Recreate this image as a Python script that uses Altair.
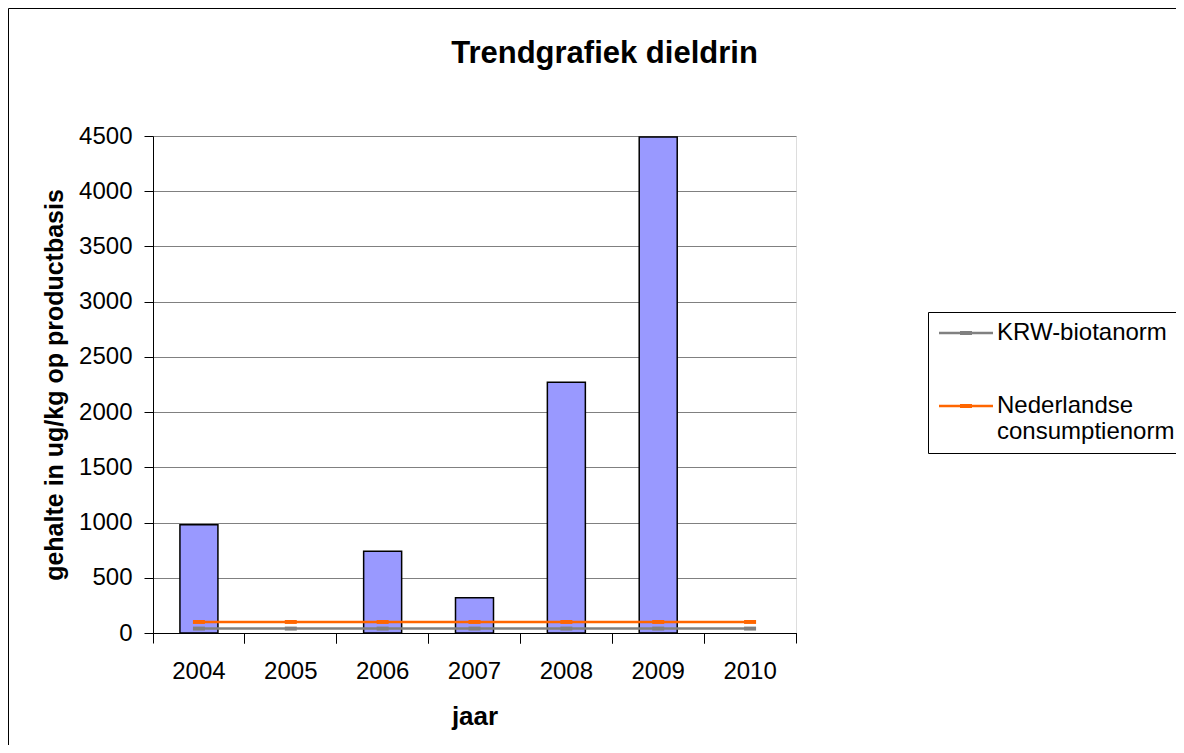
import altair as alt
import pandas as pd

years = ["2004", "2005", "2006", "2007", "2008", "2009", "2010"]
dieldrin = [980, None, 740, 320, 2270, 4490, None]
krw_norm = [40, 40, 40, 40, 40, 40, 40]
nl_norm = [100, 100, 100, 100, 100, 100, 100]
norm_names = ["KRW-biotanorm", "Nederlandse consumptienorm"]
norm_colors = ["#808080", "#FF6600"]
y_ticks = [0, 500, 1000, 1500, 2000, 2500, 3000, 3500, 4000, 4500]

FONT = "Liberation Sans"

bars_df = pd.DataFrame({"jaar": years, "waarde": dieldrin}).dropna()
norm_df = pd.DataFrame({
    "jaar": years * 2,
    "norm": [norm_names[0]] * len(years) + [norm_names[1]] * len(years),
    "waarde": krw_norm + nl_norm,
})

x_scale = alt.Scale(domain=years, paddingInner=0, paddingOuter=0)
y_scale = alt.Scale(domain=[0, 4500], nice=False)

y_axis = alt.Axis(
    values=y_ticks, format="d", title="gehalte in ug/kg op productbasis",
    titleFont=FONT, titleFontSize=25, titleFontWeight="bold", titleColor="black",
    titlePadding=11, labelFont=FONT, labelFontSize=24, labelColor="black",
    labelPadding=12, tickSize=9, tickColor="black", domainColor="black",
    gridColor="#808080", gridWidth=1,
)

bars = alt.Chart(bars_df).mark_bar(
    size=38, color="#9999FF", stroke="black", strokeWidth=1.5
).encode(
    x=alt.X("jaar:N", scale=x_scale, sort=years, axis=alt.Axis(
        orient="bottom", title="jaar", titleFont=FONT, titleFontSize=26,
        titleFontWeight="bold", titleColor="black", titlePadding=20,
        labelFont=FONT, labelFontSize=24, labelColor="black", labelAngle=0,
        labelPadding=26, ticks=False, tickSize=0, domainColor="black",
    )),
    y=alt.Y("waarde:Q", scale=y_scale, axis=y_axis),
)

color_scale = alt.Scale(domain=norm_names, range=norm_colors)

legend_symbol = "M-1,-0.125H4.4V0.125H-1Z M1.1,-0.2H2.3V0.2H1.1Z"


def make_legend():
    return alt.Legend(
        title=None, orient="none", legendX=775, legendY=176,
        strokeColor="black", fillColor="white", padding=9,
        symbolType=legend_symbol, symbolSize=400, symbolStrokeWidth=0,
        labelFont=FONT, labelFontSize=24, labelColor="black", labelOffset=36,
        labelLimit=300, rowPadding=49,
        labelExpr="datum.label == 'Nederlandse consumptienorm' ? ['Nederlandse', 'consumptienorm'] : datum.label",
    )


def tick_axis(band_pos):
    return alt.Axis(
        orient="bottom", title=None, labels=False, ticks=True, tickSize=10,
        tickColor="black", bandPosition=band_pos, domainColor="black",
    )


lines = alt.Chart(norm_df).mark_line(strokeWidth=2.5).encode(
    x=alt.X("jaar:N", scale=x_scale, sort=years, axis=tick_axis(0)),
    y=alt.Y("waarde:Q", scale=y_scale),
    stroke=alt.Stroke("norm:N", scale=color_scale, legend=make_legend()),
)

points = alt.Chart(norm_df).mark_point(
    filled=True, shape="M-1,-0.33H1V0.33H-1Z", size=144, opacity=1, strokeWidth=0
).encode(
    x=alt.X("jaar:N", scale=x_scale, sort=years, axis=tick_axis(1)),
    y=alt.Y("waarde:Q", scale=y_scale),
    fill=alt.Fill("norm:N", scale=color_scale, legend=make_legend()),
)

frame = alt.Chart(pd.DataFrame({"a": [0]})).mark_rect(
    filled=False, stroke="black", strokeWidth=1
).encode(
    x=alt.value(-144.5), x2=alt.value(1200), y=alt.value(-127.5), y2=alt.value(900)
)

chart = alt.layer(frame, bars, lines, points).resolve_axis(x="independent").properties(
    width=643, height=497,
    title=alt.Title("Trendgrafiek dieldrin", font=FONT, fontSize=31, fontWeight="bold",
                    color="black", anchor="middle", dx=130, offset=-62),
    autosize=alt.AutoSizeParams(type="none"),
    padding={"left": 145, "top": 128, "right": 380, "bottom": 112},
).configure_view(strokeWidth=0).configure(background="white")

chart.save("out.html", embed_options={"renderer": "svg", "actions": False})
